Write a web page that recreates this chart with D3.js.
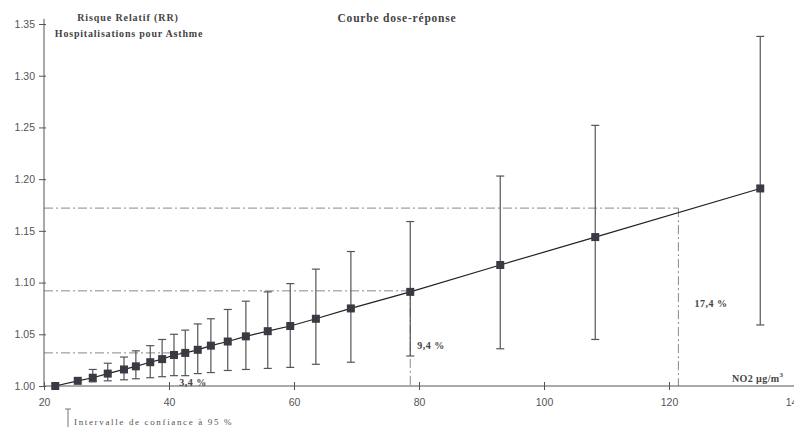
<!DOCTYPE html>
<html>
<head>
<meta charset="utf-8">
<script src="https://cdn.jsdelivr.net/npm/d3@7"></script>
<style>
  body { margin: 0; background: #fff; }
  svg { display: block; }
</style>
</head>
<body>
<div id="wrapper"></div>
<script>
// NO2 concentration (x) and relative risk with its 95% interval
const no2    = [21.8, 25.4, 27.8, 30.2, 32.8, 34.7, 37.0, 38.9, 40.8, 42.6, 44.6, 46.7, 49.4, 52.3, 55.8, 59.4, 63.5, 69.1, 78.6, 93.0, 108.2, 134.6]
const rr     = [1.000, 1.005, 1.008, 1.012, 1.016, 1.019, 1.023, 1.026, 1.030, 1.032, 1.035, 1.039, 1.043, 1.048, 1.053, 1.058, 1.065, 1.075, 1.091, 1.117, 1.144, 1.191]
const ciLow  = [1.000, 1.003, 1.004, 1.005, 1.006, 1.007, 1.008, 1.009, 1.010, 1.010, 1.012, 1.013, 1.015, 1.016, 1.017, 1.018, 1.021, 1.023, 1.029, 1.036, 1.045, 1.059]
const ciHigh = [1.000, 1.008, 1.016, 1.022, 1.028, 1.034, 1.039, 1.045, 1.050, 1.054, 1.060, 1.065, 1.074, 1.082, 1.091, 1.099, 1.113, 1.130, 1.159, 1.203, 1.252, 1.338]

const xTicks = [20, 40, 60, 80, 100, 120, 140]
const yTicks = [1.00, 1.05, 1.10, 1.15, 1.20, 1.25, 1.30, 1.35]

// dash-dot reference lines: [no2, rr, label]
const refX     = [42.6, 78.6, 121.5]
const refY     = [1.032, 1.092, 1.172]
const refLabel = ["3,4 %", "9,4 %", "17,4 %"]

const width = 794, height = 427

const svg = d3.select("#wrapper")
    .append("svg")
    .attr("width", width)
    .attr("height", height)

const xScale = d3.scaleLinear().domain([20, 140]).range([44, 794])
const yScale = d3.scaleLinear().domain([1.00, 1.35]).range([386, 24])

const serif = "'Liberation Serif', 'DejaVu Serif', serif"
const sans = "'Liberation Sans', Arial, sans-serif"

// reference lines (under everything)
const dash = "9,3,2,3"
refX.forEach(function(d, i) {
    svg.append("line")
        .attr("x1", xScale(20)).attr("x2", xScale(d))
        .attr("y1", yScale(refY[i])).attr("y2", yScale(refY[i]))
        .attr("stroke", "#888").attr("stroke-width", 1)
        .attr("stroke-dasharray", dash)
    if (i > 0) {
        svg.append("line")
            .attr("x1", xScale(d)).attr("x2", xScale(d))
            .attr("y1", yScale(refY[i])).attr("y2", yScale(1.00))
            .attr("stroke", "#888").attr("stroke-width", 1)
            .attr("stroke-dasharray", dash)
    }
})

// y-axis
const yAxis = d3.axisLeft(yScale)
    .tickValues(yTicks)
    .tickFormat(d3.format(".2f"))
    .tickSize(5)
const gy = svg.append("g")
    .attr("transform", `translate(${xScale(20)},0)`)
    .call(yAxis)
gy.select(".domain").attr("stroke", "#555").attr("d", `M0,${yScale(1.00)}V${yScale(1.355)}`)
gy.selectAll(".tick line").attr("stroke", "#555").attr("x2", -5).attr("x1", 2)
gy.selectAll(".tick text")
    .attr("x", -9)
    .attr("fill", "#555")
    .attr("font-family", sans)
    .attr("font-size", 10.5)

// x-axis
const xAxis = d3.axisBottom(xScale)
    .tickValues(xTicks)
    .tickFormat(d3.format("d"))
    .tickSize(4)
const gx = svg.append("g")
    .attr("transform", `translate(0,${yScale(1.00)})`)
    .call(xAxis)
gx.select(".domain").attr("stroke", "#555").attr("d", `M${xScale(20)},0H${width}`)
gx.selectAll(".tick line").attr("stroke", "#555").attr("y1", -4).attr("y2", 4)
gx.selectAll(".tick text")
    .attr("y", 13)
    .attr("fill", "#555")
    .attr("font-family", sans)
    .attr("font-size", 10.5)

// error bars
const capW = 4
no2.forEach(function(d, i) {
    if (ciHigh[i] - ciLow[i] < 0.006) return
    const x = xScale(d)
    svg.append("line")
        .attr("x1", x).attr("x2", x)
        .attr("y1", yScale(ciLow[i])).attr("y2", yScale(ciHigh[i]))
        .attr("stroke", "#555").attr("stroke-width", 1.2)
    ;[ciLow[i], ciHigh[i]].forEach(function(v) {
        svg.append("line")
            .attr("x1", x - capW).attr("x2", x + capW)
            .attr("y1", yScale(v)).attr("y2", yScale(v))
            .attr("stroke", "#555").attr("stroke-width", 1.2)
    })
})

// dose-response line
const line = d3.line()
    .x(function(d, i) { return xScale(no2[i]) })
    .y(function(d) { return yScale(d) })
svg.append("path")
    .datum(rr)
    .attr("d", line)
    .attr("fill", "none")
    .attr("stroke", "#222")
    .attr("stroke-width", 1.2)

// square markers
const sq = 8
svg.selectAll(".pt")
    .data(rr)
    .enter()
    .append("rect")
        .attr("class", "pt")
        .attr("x", function(d, i) { return xScale(no2[i]) - sq / 2 })
        .attr("y", function(d) { return yScale(d) - sq / 2 })
        .attr("width", sq)
        .attr("height", sq)
        .style("fill", "#3a3a42")

// percentage labels
const labelPos = [[193, 386], [431, 349], [711, 307]]
refLabel.forEach(function(t, i) {
    svg.append("text")
        .attr("x", labelPos[i][0]).attr("y", labelPos[i][1])
        .attr("text-anchor", "middle")
        .attr("font-family", serif)
        .attr("font-weight", "bold")
        .attr("font-size", 10)
        .attr("fill", "#444")
        .attr("letter-spacing", 0.5)
        .text(t)
})

// titles
svg.append("text")
    .attr("x", 128).attr("y", 21)
    .attr("text-anchor", "middle")
    .attr("font-family", serif).attr("font-weight", "bold")
    .attr("font-size", 10).attr("fill", "#444")
    .attr("letter-spacing", 0.9)
    .text("Risque Relatif (RR)")
svg.append("text")
    .attr("x", 129).attr("y", 37)
    .attr("text-anchor", "middle")
    .attr("font-family", serif).attr("font-weight", "bold")
    .attr("font-size", 10).attr("fill", "#444")
    .attr("letter-spacing", 0.8)
    .text("Hospitalisations pour Asthme")
svg.append("text")
    .attr("x", 397).attr("y", 22)
    .attr("text-anchor", "middle")
    .attr("font-family", serif).attr("font-weight", "bold")
    .attr("font-size", 11.5).attr("fill", "#444")
    .attr("letter-spacing", 0.8)
    .text("Courbe dose-réponse")

// x-axis unit
const unit = svg.append("text")
    .attr("x", 732).attr("y", 382)
    .attr("font-family", serif).attr("font-weight", "bold")
    .attr("font-size", 10).attr("fill", "#444")
    .attr("letter-spacing", 0.4)
unit.append("tspan").text("NO2 µg/m")
unit.append("tspan").attr("dy", -5).attr("font-size", 7).text("3")

// legend: confidence interval glyph
svg.append("line")
    .attr("x1", 68).attr("x2", 68).attr("y1", 409).attr("y2", 427)
    .attr("stroke", "#777").attr("stroke-width", 1)
svg.append("line")
    .attr("x1", 65).attr("x2", 71).attr("y1", 409).attr("y2", 409)
    .attr("stroke", "#777").attr("stroke-width", 1)
svg.append("text")
    .attr("x", 74).attr("y", 425)
    .attr("font-family", serif)
    .attr("font-size", 9).attr("fill", "#555")
    .attr("letter-spacing", 1.65)
    .text("Intervalle de confiance à 95 %")
</script>
</body>
</html>
